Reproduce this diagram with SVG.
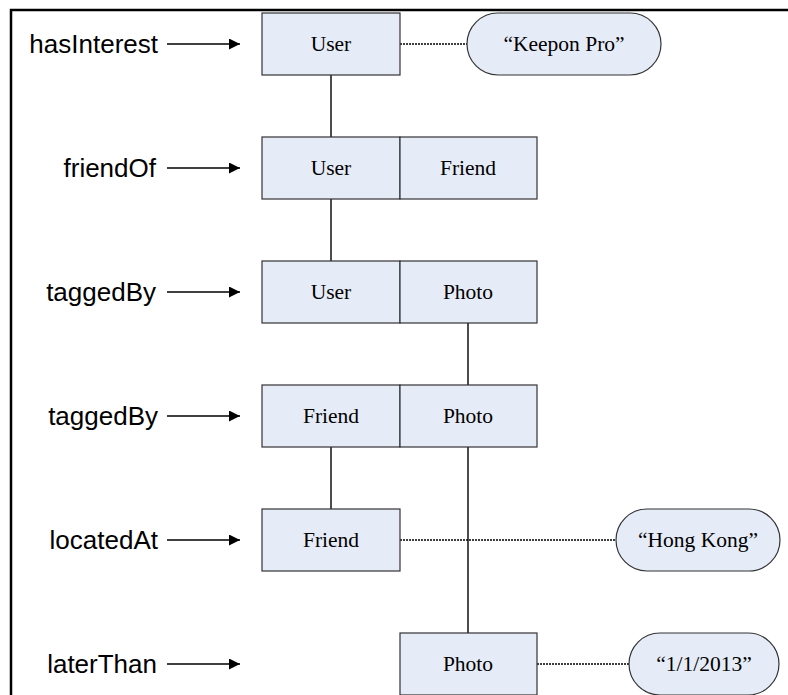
<svg xmlns="http://www.w3.org/2000/svg" width="788" height="695" viewBox="0 0 788 695">
<style>
.lbl{font-family:"Liberation Sans",Arial,sans-serif;font-size:26px;fill:#000;text-anchor:end}
.box{fill:#e6ecf7;stroke:#333;stroke-width:1.2}
.t{font-family:"Liberation Serif","Times New Roman",serif;font-size:21.5px;fill:#000;text-anchor:middle}
.solid{stroke:#000;stroke-width:1.4;fill:none}
.dot{stroke:#000;stroke-width:1.4;stroke-dasharray:2 1;fill:none}
.arr{stroke:#000;stroke-width:1.6;fill:none;marker-end:url(#ah)}
</style>
<defs>
<marker id="ah" viewBox="0 0 10 10" refX="10" refY="5" markerWidth="13" markerHeight="11" markerUnits="userSpaceOnUse" orient="auto">
<path d="M0,0 L10,5 L0,10 Z" fill="#000"/>
</marker>
</defs>
<rect width="788" height="695" fill="#fff"/>
<path d="M11,695 V10 H788" stroke="#000" stroke-width="2.5" fill="none"/>

<g id="labels">
<text class="lbl" x="158" y="53">hasInterest</text>
<text class="lbl" x="156" y="177">friendOf</text>
<text class="lbl" x="156" y="301">taggedBy</text>
<text class="lbl" x="158" y="425">taggedBy</text>
<text class="lbl" x="158" y="549">locatedAt</text>
<text class="lbl" x="157" y="673">laterThan</text>
</g>

<g id="connectors">
<line class="arr" x1="167" y1="44" x2="240" y2="44"/>
<line class="arr" x1="167" y1="168" x2="240" y2="168"/>
<line class="arr" x1="167" y1="292" x2="240" y2="292"/>
<line class="arr" x1="167" y1="416" x2="240" y2="416"/>
<line class="arr" x1="167" y1="540" x2="240" y2="540"/>
<line class="arr" x1="167" y1="664" x2="240" y2="664"/>
<line class="solid" x1="331" y1="75" x2="331" y2="137"/>
<line class="solid" x1="331" y1="199" x2="331" y2="261"/>
<line class="solid" x1="468" y1="323" x2="468" y2="385"/>
<line class="solid" x1="331" y1="447" x2="331" y2="509"/>
<line class="solid" x1="468" y1="447" x2="468" y2="633"/>
<line class="dot" x1="400" y1="44" x2="467" y2="44"/>
<line class="dot" x1="400" y1="540" x2="616" y2="540"/>
<line class="dot" x1="537" y1="664" x2="629" y2="664"/>
</g>

<g id="n1">
<rect class="box" x="262" y="13" width="138" height="62"/>
<text class="t" x="331" y="51">User</text>
</g>
<g id="keepon">
<rect class="box" x="467" y="13" width="194" height="62" rx="31" ry="31"/>
<text class="t" x="564" y="51">“Keepon Pro”</text>
</g>

<g id="n2">
<rect class="box" x="262" y="137" width="138" height="62"/>
<text class="t" x="331" y="175">User</text>
<rect class="box" x="400" y="137" width="137" height="62"/>
<text class="t" x="468" y="175">Friend</text>
</g>

<g id="n3">
<rect class="box" x="262" y="261" width="138" height="62"/>
<text class="t" x="331" y="299">User</text>
<rect class="box" x="400" y="261" width="137" height="62"/>
<text class="t" x="468" y="299">Photo</text>
</g>

<g id="n4">
<rect class="box" x="262" y="385" width="138" height="62"/>
<text class="t" x="331" y="423">Friend</text>
<rect class="box" x="400" y="385" width="137" height="62"/>
<text class="t" x="468" y="423">Photo</text>
</g>

<g id="n5">
<rect class="box" x="262" y="509" width="138" height="62"/>
<text class="t" x="331" y="547">Friend</text>
</g>
<g id="hongkong">
<rect class="box" x="616" y="509" width="164" height="62" rx="31" ry="31"/>
<text class="t" x="698" y="547">“Hong Kong”</text>
</g>

<g id="n6">
<rect class="box" x="400" y="633" width="137" height="62"/>
<text class="t" x="468" y="671">Photo</text>
</g>
<g id="date">
<rect class="box" x="629" y="633" width="150" height="62" rx="31" ry="31"/>
<text class="t" x="704" y="671">“1/1/2013”</text>
</g>
</svg>
